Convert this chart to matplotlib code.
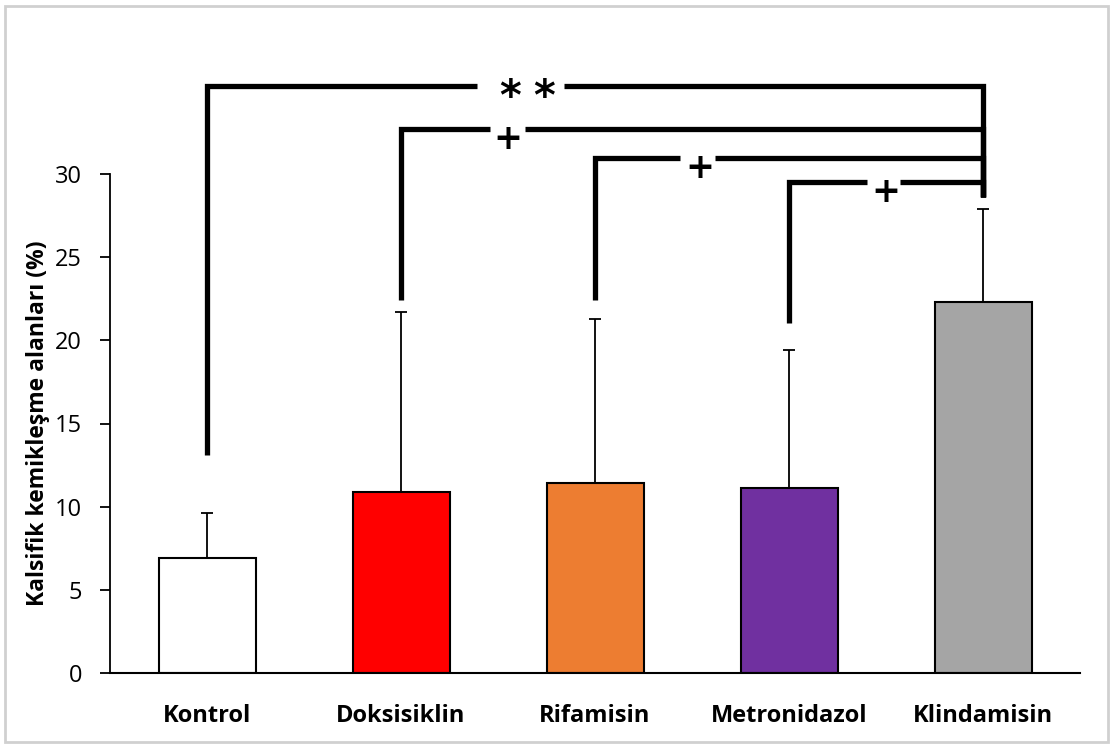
import numpy as np
import matplotlib.pyplot as plt
from matplotlib.patches import Rectangle

# data
groups = ['Kontrol', 'Doksisiklin', 'Rifamisin', 'Metronidazol', 'Klindamisin']
means = [6.9, 10.9, 11.4, 11.1, 22.3]
err_up = [2.7, 10.8, 9.9, 8.3, 5.6]
colors = ['#FFFFFF', '#FF0000', '#ED7D31', '#7030A0', '#A5A5A5']

# significance brackets: left group, right group, height, left leg bottom, label, label x, gap
br_left = [0, 1, 2, 3]
br_right = [4, 4, 4, 4]
br_y = [35.3, 32.7, 30.95, 29.5]
br_leg = [13.1, 22.4, 22.4, 21.05]
br_text = ['*', '+', '+', '+']
br_tx = [1.65, 1.55, 2.54, 3.50]
br_gap = [(1.39, 1.84), (1.46, 1.64), (2.44, 2.62), (3.40, 3.57)]
right_leg_bottom = 28.6

plt.rcParams['font.family'] = ['Open Sans', 'DejaVu Sans']

fig = plt.figure(figsize=(11.15, 7.47), dpi=100)
ax = fig.add_axes([110 / 1115, 1 - 673 / 747, 970 / 1115, 499 / 747])

x = np.arange(len(groups))
ax.bar(x, means, width=0.5, color=colors, edgecolor='black', linewidth=1.5, zorder=2)
ax.errorbar(x, means, yerr=[np.zeros(len(means)), err_up], fmt='none',
            ecolor='black', elinewidth=1.3, capsize=4, capthick=1.3, zorder=1)

lw = 3.8
for l, r, y, leg, t, tx, g in zip(br_left, br_right, br_y, br_leg, br_text, br_tx, br_gap):
    ax.plot([l, l, g[0]], [leg, y, y], color='black', lw=lw, clip_on=False,
            solid_capstyle='butt', solid_joinstyle='miter')
    ax.plot([g[1], r, r], [y, y, right_leg_bottom], color='black', lw=lw, clip_on=False,
            solid_capstyle='butt', solid_joinstyle='miter')
    if t == '*':
        # two separate bold asterisks
        for sx in (tx - 0.09, tx + 0.09):
            ax.text(sx, y - 0.75, '*', ha='center', va='center', fontsize=30,
                    fontweight='bold', family='DejaVu Sans')
    else:
        ax.text(tx, y - 0.6, t, ha='center', va='center', fontsize=25,
                fontweight='bold', family='DejaVu Sans')

ax.set_xlim(-0.5, 4.5)
ax.set_ylim(0, 30)
ax.set_yticks([0, 5, 10, 15, 20, 25, 30])
ax.set_xticks(x)
ax.set_xticklabels(groups, fontsize=17, fontweight='bold')
ax.tick_params(axis='y', labelsize=17, length=7, width=1.3, direction='out', pad=13)
ax.tick_params(axis='x', length=0, pad=22)
ax.set_ylabel('Kalsifik kemikleşme alanları (%)', fontsize=16.5, fontweight='bold', labelpad=4)
for s in ['top', 'right']:
    ax.spines[s].set_visible(False)
ax.spines['left'].set_linewidth(1.3)
ax.spines['bottom'].set_linewidth(1.5)

fig.patches.append(Rectangle((5 / 1115, 5 / 747), 1103 / 1115, 736 / 747,
                             transform=fig.transFigure, fill=False,
                             edgecolor='#D0D0D0', lw=2))

fig.savefig('out.png', dpi=100)
